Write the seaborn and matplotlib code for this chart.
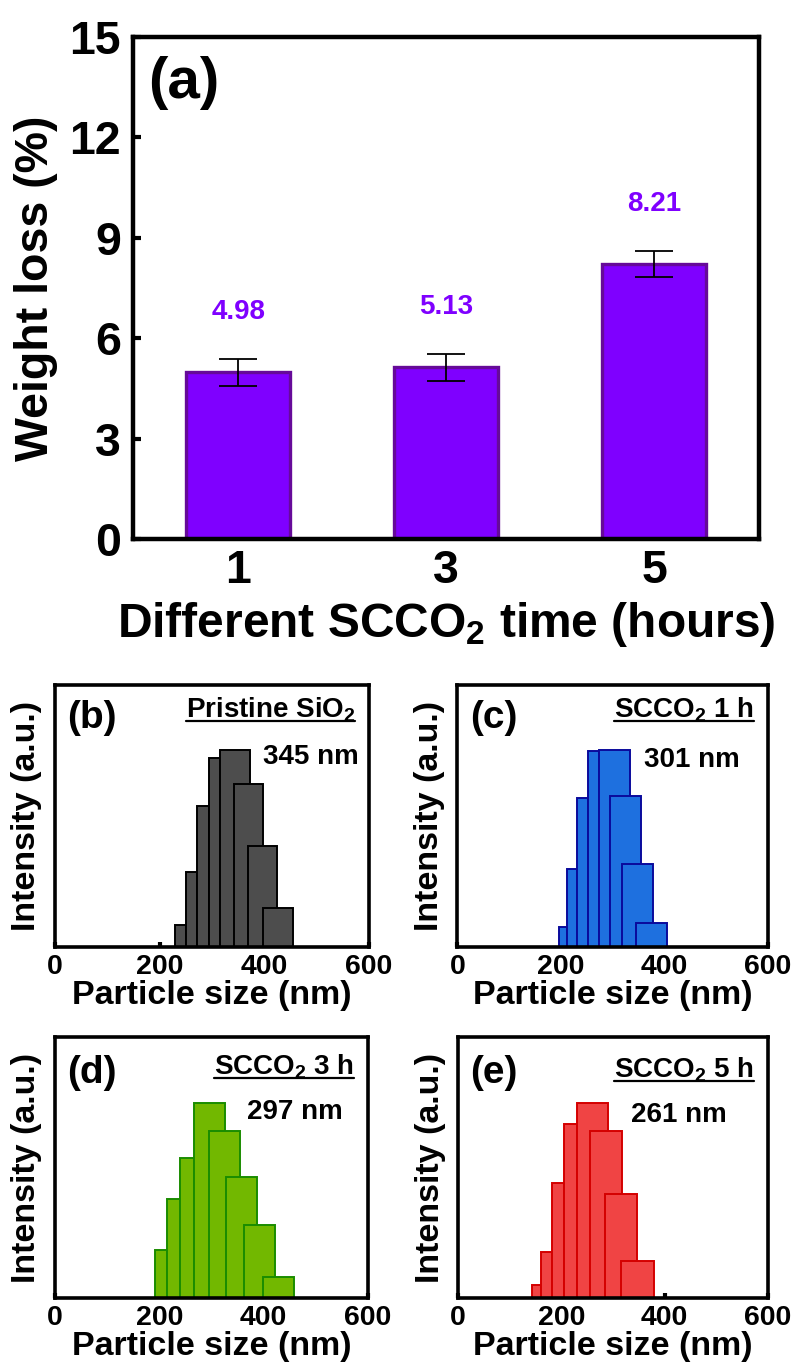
import matplotlib
matplotlib.use("Agg")
import matplotlib.pyplot as plt
from matplotlib.lines import Line2D
import seaborn as sns
import pandas as pd

# ---------------- data ----------------
time_labels = ["1", "3", "5"]
weight_loss = [4.98, 5.13, 8.21]
weight_err = [0.40, 0.40, 0.40]

b_left = [230, 250, 271, 294, 316, 342, 369, 398]
b_right = [250, 271, 294, 316, 373, 398, 425, 455]
b_height = [0.083, 0.287, 0.539, 0.720, 0.752, 0.622, 0.386, 0.148]

c_left = [196, 212, 232, 253, 273, 294, 319, 345]
c_right = [212, 232, 253, 273, 333, 355, 378, 405]
c_height = [0.076, 0.298, 0.569, 0.749, 0.752, 0.577, 0.318, 0.093]

d_left = [191, 214, 239, 267, 296, 328, 363, 399]
d_right = [214, 239, 267, 325, 355, 387, 421, 458]
d_height = [0.183, 0.379, 0.535, 0.746, 0.640, 0.462, 0.279, 0.078]

e_left = [144, 161, 182, 206, 230, 256, 284, 316]
e_right = [161, 182, 206, 230, 291, 318, 347, 379]
e_height = [0.049, 0.174, 0.439, 0.666, 0.746, 0.640, 0.400, 0.142]

panel_tags = ["(b)", "(c)", "(d)", "(e)"]
panel_titles = ["Pristine SiO$_2$", "SCCO$_2$ 1 h", "SCCO$_2$ 3 h", "SCCO$_2$ 5 h"]
panel_sizes = ["345 nm", "301 nm", "297 nm", "261 nm"]
size_ticks = [0, 200, 400, 600]

# ---------------- style ----------------
sns.set_theme(style="ticks")
plt.rcParams["font.family"] = ["Liberation Sans", "DejaVu Sans"]
plt.rcParams["font.weight"] = "bold"
plt.rcParams["axes.labelweight"] = "bold"
plt.rcParams["text.color"] = "black"
plt.rcParams["axes.labelcolor"] = "black"
plt.rcParams["xtick.color"] = "black"
plt.rcParams["ytick.color"] = "black"
plt.rcParams["axes.edgecolor"] = "black"
plt.rcParams["mathtext.fontset"] = "custom"
plt.rcParams["mathtext.rm"] = "Liberation Sans:bold"
plt.rcParams["mathtext.bf"] = "Liberation Sans:bold"
plt.rcParams["mathtext.it"] = "Liberation Sans:bold"
plt.rcParams["mathtext.default"] = "rm"

W, H = 793, 1367
fig = plt.figure(figsize=(W / 100, H / 100), dpi=100)


def ax_rect(l, t, r, b):
    return [l / W, 1 - b / H, (r - l) / W, (b - t) / H]


# ---------------- panel (a) ----------------
axa = fig.add_axes(ax_rect(133.3, 36.7, 759, 539))
dfa = pd.DataFrame({"time": time_labels, "loss": weight_loss})
sns.barplot(data=dfa, x="time", y="loss", order=time_labels, ax=axa,
            color="#7F00FF", saturation=1, width=0.5,
            edgecolor="#660A99", linewidth=2.4, errorbar=None)
axa.errorbar(range(len(weight_loss)), weight_loss, yerr=weight_err, fmt="none",
             ecolor="black", elinewidth=1.3, capsize=14, capthick=1.3, zorder=5)
for i, (v, e) in enumerate(zip(weight_loss, weight_err)):
    axa.text(i, v + e + 1.4, f"{v:.2f}", ha="center", va="center",
             color="#7F00FF", fontsize=20, fontweight="bold")
axa.set_xlim(-0.505, 2.505)
axa.set_ylim(0, 15)
axa.set_yticks([0, 3, 6, 9, 12, 15])
axa.tick_params(axis="both", direction="in", labelsize=33.5, length=6, width=3, pad=7,
                colors="black")
axa.tick_params(axis="y", pad=9)
for s in axa.spines.values():
    s.set_linewidth(3.2)
    s.set_color("black")
    s.set_visible(True)
axa.set_xlabel("Different SCCO$_2$ time (hours)", fontsize=34.5, fontweight="bold",
               labelpad=5, color="black")
axa.set_ylabel("Weight loss (%)", fontsize=33.5, fontweight="bold", labelpad=8,
               color="black")
axa.text(0.024, 0.962, "(a)", transform=axa.transAxes, ha="left", va="top",
         fontsize=42, fontweight="bold", color="black")

# ---------------- histogram panels ----------------
hist_sets = [
    (b_left, b_right, b_height, "#4D4D4D", "#000000"),
    (c_left, c_right, c_height, "#1E70DF", "#0A0A9C"),
    (d_left, d_right, d_height, "#72B800", "#1A8C00"),
    (e_left, e_right, e_height, "#F04444", "#D40000"),
]
rects = [
    ax_rect(55, 685, 369, 947),
    ax_rect(457.3, 685, 768, 947),
    ax_rect(55, 1037.3, 368, 1297.7),
    ax_rect(458, 1037.3, 768, 1297.7),
]
tag_y = [0.875, 0.873, 0.862, 0.862]
title_y = [0.905, 0.905, 0.886, 0.875]
size_xy = [(0.968, 0.726), (0.909, 0.714), (0.920, 0.714), (0.866, 0.700)]

title_texts = []
for k, (lefts, rights, heights, fc, ec) in enumerate(hist_sets):
    ax = fig.add_axes(rects[k])
    for l, r, h in zip(lefts, rights, heights):
        ax.bar(l, h, width=r - l, align="edge", color=fc, edgecolor=ec, linewidth=1.4)
    ax.set_xlim(0, 600)
    ax.set_ylim(0, 1)
    ax.set_axisbelow(True)
    ax.set_xticks(size_ticks)
    ax.set_yticks([])
    ax.tick_params(axis="x", direction="in", labelsize=20.5, length=3.5, width=3, pad=5,
                   colors="black")
    for s in ax.spines.values():
        s.set_linewidth(2.6)
        s.set_color("black")
        s.set_visible(True)
    ax.set_xlabel("Particle size (nm)", fontsize=24.5, fontweight="bold", labelpad=0,
                  color="black")
    ax.set_ylabel("Intensity (a.u.)", fontsize=24.5, fontweight="bold", labelpad=9,
                  color="black")
    ax.text(0.04, tag_y[k], panel_tags[k], transform=ax.transAxes, ha="left",
            va="center", fontsize=28, fontweight="bold", color="black")
    t = ax.text(0.956, title_y[k], panel_titles[k], transform=ax.transAxes,
                ha="right", va="center", fontsize=20, fontweight="bold", color="black")
    title_texts.append(t)
    sx, sy = size_xy[k]
    ax.text(sx, sy, panel_sizes[k], transform=ax.transAxes, ha="right",
            va="center", fontsize=20, fontweight="bold", color="black")

# underline the sample titles
fig.canvas.draw()
renderer = fig.canvas.get_renderer()
inv = fig.transFigure.inverted()
for t in title_texts:
    bb = t.get_window_extent(renderer)
    (x0, y0), (x1, _) = inv.transform([(bb.x0, bb.y0 + 3), (bb.x1, bb.y0 + 3)])
    fig.add_artist(Line2D([x0, x1], [y0, y0], transform=fig.transFigure,
                          color="black", linewidth=1.6))

fig.savefig("out.png", dpi=100)
